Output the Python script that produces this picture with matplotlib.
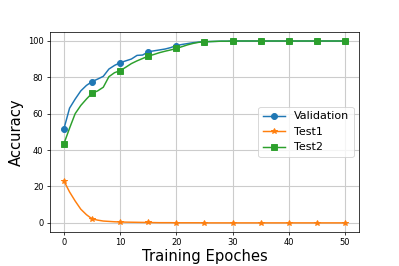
import numpy as np
import matplotlib
matplotlib.use("Agg")
import matplotlib.pyplot as plt

# Datos (una muestra por epoca, 0..50)
epochs = list(range(51))
validation = [51.7, 63, 68, 72.5, 75.5, 77.6, 79, 80.5, 84.5, 86.5,
              88, 89, 90, 92, 92.2, 94, 94.5, 95, 95.5, 96.3,
              97.4, 98, 98.5, 99, 99.3, 99.5, 99.6, 99.7, 99.8, 99.8,
              99.9, 99.9, 99.9, 99.9, 99.9, 99.9, 99.9, 99.9, 99.9, 99.9,
              99.9, 99.9, 99.9, 99.9, 99.9, 99.9, 99.9, 99.9, 99.9, 99.9,
              99.9]
test1 = [23, 17, 12, 7.5, 4.5, 2.2, 1.5, 1.0, 0.8, 0.6,
         0.5, 0.4, 0.35, 0.3, 0.25, 0.2, 0.15, 0.1, 0.1, 0.1,
         0.05, 0.05, 0.05, 0.05, 0.05, 0.0, 0.0, 0.0, 0.0, 0.0,
         0.0, 0.0, 0.0, 0.0, 0.0, 0.0, 0.0, 0.0, 0.0, 0.0,
         0.0, 0.0, 0.0, 0.0, 0.0, 0.0, 0.0, 0.0, 0.0, 0.0,
         0.0]
test2 = [43.5, 52, 60, 64.5, 68, 71.2, 72.5, 74.5, 80.3, 82.5,
         83.6, 85.5, 87.5, 89, 90.3, 91.6, 92.5, 93.5, 94.3, 95,
         95.8, 96.8, 97.8, 98.6, 99.2, 99.5, 99.6, 99.7, 99.8, 99.8,
         99.9, 99.9, 99.9, 99.9, 99.9, 99.9, 99.9, 99.9, 99.9, 99.9,
         99.9, 99.9, 99.9, 99.9, 99.9, 99.9, 99.9, 99.9, 99.9, 99.9,
         99.9]

fig = plt.figure(figsize=(6, 4), dpi=66.5)
plt.subplots_adjust(left=0.125, right=0.9, bottom=0.128, top=0.88)
plt.plot(epochs, validation, marker='o', markevery=5, markersize=6.5, linewidth=1.6, label="Validation")
plt.plot(epochs, test1, marker='*', markevery=5, markersize=6.5, linewidth=1.6, label="Test1")
plt.plot(epochs, test2, marker='s', markevery=5, markersize=6.5, linewidth=1.6, label="Test2")
plt.xlabel("Training Epoches", fontsize=16, labelpad=2)
plt.ylabel("Accuracy", fontsize=16)
plt.xticks(np.arange(0, 51, 10), fontsize=9)
plt.yticks(np.arange(0, 101, 20), fontsize=9)
plt.grid(color='#cccccc', linewidth=1.2)
plt.legend(loc="center right", fontsize=12)
plt.savefig("out.png", dpi=66.5)
